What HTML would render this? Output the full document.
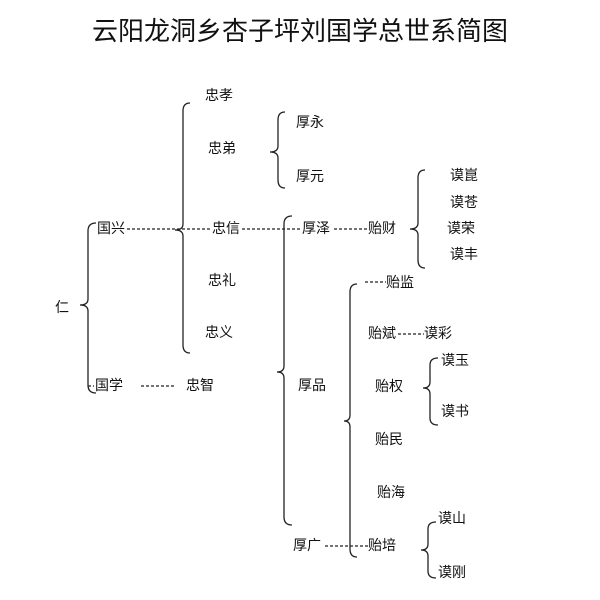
<!DOCTYPE html>
<html><head><meta charset="utf-8"><style>
html,body{margin:0;padding:0;background:#fff;}
svg{display:block;}
text{font-family:"Liberation Sans","Noto Sans CJK SC",sans-serif;fill:#111;}
.t{font-size:14px;}
.b{fill:none;stroke:#222;stroke-width:1.3;}
.d{stroke:#222;stroke-width:1.2;stroke-dasharray:3,2;}
</style></head><body>
<svg width="600" height="600" viewBox="0 0 600 600">
<text x="300" y="40" font-size="26" text-anchor="middle">云阳龙洞乡杏子坪刘国学总世系简图</text>
<!-- braces -->
<path class="b" d="M96,223 Q88,223 88,231 L88,299 Q88,305 80,305 Q88,305 88,311 L88,385 Q88,393 96,393"/>
<path class="b" d="M190,103 Q183,103 183,111 L183,224 Q183,230 175,230 Q183,230 183,236 L183,345 Q183,353 190,353"/>
<path class="b" d="M285,112 Q278,112 278,120 L278,146 Q278,152 270,152 Q278,152 278,158 L278,180 Q278,188 285,188"/>
<path class="b" d="M292,216 Q284,216 284,224 L284,366 Q284,372 277,372 Q284,372 284,378 L284,517 Q284,525 292,525"/>
<path class="b" d="M425,170 Q418,170 418,178 L418,223 Q418,229 410,229 Q418,229 418,235 L418,260 Q418,268 425,268"/>
<path class="b" d="M357,284 Q350,284 350,292 L350,415 Q350,421 344,421 Q350,421 350,427 L350,549 Q350,557 357,557"/>
<path class="b" d="M438,358 Q430,358 430,365 L430,382 Q430,388 423,388 Q430,388 430,394 L430,418 Q430,425 438,425"/>
<path class="b" d="M436,522 Q428,522 428,529 L428,544 Q428,550 421,550 Q428,550 428,556 L428,571 Q428,578 436,578"/>
<!-- dashes -->
<line class="d" x1="127" y1="229" x2="212" y2="229"/>
<line class="d" x1="242" y1="229" x2="300" y2="229"/>
<line class="d" x1="334" y1="229" x2="368" y2="229"/>
<line class="d" x1="365" y1="282" x2="386" y2="282"/>
<line class="d" x1="398" y1="334" x2="424" y2="334"/>
<line class="d" x1="325" y1="546" x2="368" y2="546"/>
<line class="d" x1="88" y1="386" x2="94" y2="386"/>
<line class="d" x1="141" y1="386" x2="176" y2="386"/>
<!-- labels -->
<text class="t" x="205" y="100">忠孝</text>
<text class="t" x="208" y="153">忠弟</text>
<text class="t" x="296" y="127">厚永</text>
<text class="t" x="296" y="181">厚元</text>
<text class="t" x="97" y="233">国兴</text>
<text class="t" x="212" y="233">忠信</text>
<text class="t" x="302" y="233">厚泽</text>
<text class="t" x="368" y="233">贻财</text>
<text class="t" x="450" y="180">谟崑</text>
<text class="t" x="450" y="207">谟苍</text>
<text class="t" x="447" y="233">谟荣</text>
<text class="t" x="450" y="259">谟丰</text>
<text class="t" x="386" y="287">贻监</text>
<text class="t" x="368" y="338">贻斌</text>
<text class="t" x="424" y="338">谟彩</text>
<text class="t" x="441" y="365">谟玉</text>
<text class="t" x="375" y="391">贻权</text>
<text class="t" x="441" y="416">谟书</text>
<text class="t" x="375" y="444">贻民</text>
<text class="t" x="377" y="497">贻海</text>
<text class="t" x="438" y="523">谟山</text>
<text class="t" x="293" y="550">厚广</text>
<text class="t" x="368" y="550">贻培</text>
<text class="t" x="438" y="577">谟刚</text>
<text class="t" x="208" y="285">忠礼</text>
<text class="t" x="205" y="337">忠义</text>
<text class="t" x="55" y="312">仁</text>
<text class="t" x="95" y="390">国学</text>
<text class="t" x="186" y="390">忠智</text>
<text class="t" x="298" y="390">厚品</text>
</svg>
</body></html>
